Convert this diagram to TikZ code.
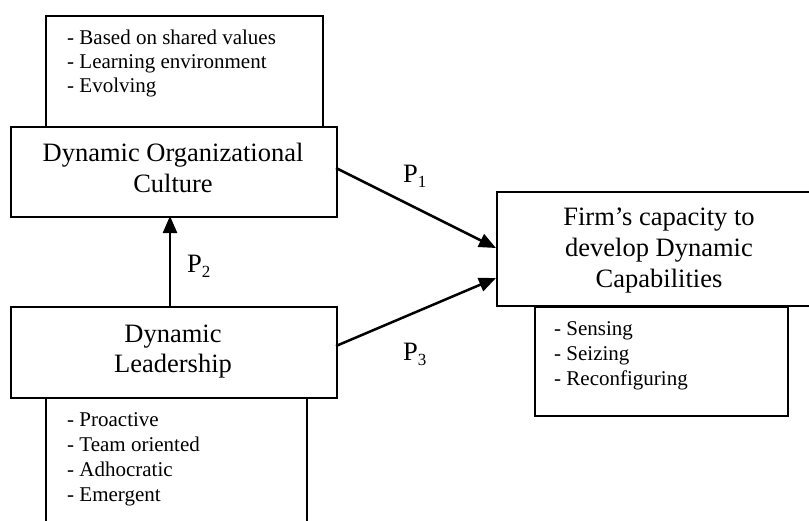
\documentclass[tikz,border=0pt]{standalone}
\usepackage{fontspec}
\setmainfont{Liberation Serif}
\usetikzlibrary{arrows.meta}
\newcommand{\bigtxt}{\fontsize{26.5}{31}\selectfont}
\newcommand{\smalltxt}{\fontsize{21}{24}\selectfont}
\newcommand{\plabel}[1]{\bigtxt P\raisebox{-0.22em}{\fontsize{17}{17}\selectfont #1}}
\begin{document}
\begin{tikzpicture}[x=1pt,y=-1pt,
  boxst/.style={draw=black,fill=white,line width=1.8pt,inner sep=0pt,anchor=north west},
  bigline/.style={anchor=base,inner sep=0pt,font=\bigtxt},
  smallline/.style={anchor=base west,inner sep=0pt,font=\smalltxt},
  plab/.style={anchor=base west,inner sep=0pt},
  arr/.style={line width=2.5pt,-{Triangle[length=17pt,width=14pt]}}]
\clip (0,0) rectangle (809,520);
\fill[white] (0,0) rectangle (809,520);
% attribute boxes (behind)
\node[boxst,minimum width=277pt,minimum height=111pt] (cattr) at (45,15) {};
\node[boxst,minimum width=261pt,minimum height=140pt] (lattr) at (45,397) {};
\node[boxst,minimum width=253pt,minimum height=109pt] (fattr) at (534,306) {};
% main boxes
\node[boxst,minimum width=326pt,minimum height=90pt] (cult) at (10,126) {};
\node[boxst,minimum width=326pt,minimum height=91pt] (lead) at (10,306) {};
\node[boxst,minimum width=330pt,minimum height=114pt] (firm) at (496,191) {};
% main texts
\node[bigline] (ct1) at (173,161) {Dynamic Organizational};
\node[bigline] (ct2) at (173,192) {Culture};
\node[bigline] (lt1) at (173,342) {Dynamic};
\node[bigline] (lt2) at (173,372) {Leadership};
\node[bigline] (ft1) at (659,225) {Firm’s capacity to};
\node[bigline] (ft2) at (659,256) {develop Dynamic};
\node[bigline] (ft3) at (659,287) {Capabilities};
% attribute texts
\node[smallline] (ca1) at (67,44) {- Based on shared values};
\node[smallline] (ca2) at (67,68) {- Learning environment};
\node[smallline] (ca3) at (67,92) {- Evolving};
\node[smallline] (la1) at (67,426) {- Proactive};
\node[smallline] (la2) at (67,451) {- Team oriented};
\node[smallline] (la3) at (67,476) {- Adhocratic};
\node[smallline] (la4) at (67,501) {- Emergent};
\node[smallline] (fa1) at (554,335) {- Sensing};
\node[smallline] (fa2) at (554,360) {- Seizing};
\node[smallline] (fa3) at (554,385) {- Reconfiguring};
% arrows
\coordinate (p1s) at (336,168);
\coordinate (p1e) at (496,248);
\coordinate (p3s) at (336,346);
\coordinate (p3e) at (496,278);
\coordinate (p2s) at (170,306);
\coordinate (p2e) at (170,216);
\draw[arr] (p1s) -- (p1e);
\draw[arr] (p3s) -- (p3e);
\draw[arr] (p2s) -- (p2e);
% labels
\node[plab] (P1) at (403,182) {\plabel{1}};
\node[plab] (P3) at (403,360) {\plabel{3}};
\node[plab] (P2) at (187,272) {\plabel{2}};
\end{tikzpicture}
\end{document}
